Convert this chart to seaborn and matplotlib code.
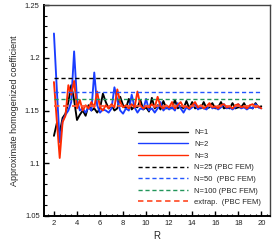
import numpy as np
import pandas as pd
import matplotlib
matplotlib.use("Agg")
import matplotlib.pyplot as plt
import seaborn as sns
from matplotlib.ticker import MultipleLocator
from matplotlib.lines import Line2D

R = [2 + 0.25 * i for i in range(73)]

n1 = [1.126, 1.138, 1.129, 1.143, 1.147, 1.158, 1.174, 1.160, 1.141, 1.146,
      1.150, 1.145, 1.155, 1.150, 1.152, 1.148, 1.152, 1.166, 1.158, 1.152,
      1.155, 1.150, 1.152, 1.163, 1.155, 1.152, 1.161, 1.151, 1.154, 1.153,
      1.160, 1.151, 1.153, 1.149, 1.162, 1.152, 1.155, 1.151, 1.159, 1.152,
      1.153, 1.152, 1.160, 1.152, 1.154, 1.152, 1.159, 1.152, 1.158, 1.152,
      1.153, 1.152, 1.158, 1.152, 1.153, 1.157, 1.152, 1.153, 1.158, 1.152,
      1.153, 1.152, 1.157, 1.152, 1.153, 1.153, 1.157, 1.152, 1.153, 1.152,
      1.157, 1.153, 1.154]

n2 = [1.223, 1.170, 1.120, 1.140, 1.146, 1.150, 1.158, 1.206, 1.160, 1.150,
      1.152, 1.148, 1.153, 1.150, 1.186, 1.155, 1.148, 1.151, 1.150, 1.148,
      1.152, 1.172, 1.160, 1.150, 1.147, 1.152, 1.150, 1.165, 1.153, 1.148,
      1.152, 1.151, 1.161, 1.150, 1.152, 1.148, 1.152, 1.158, 1.150, 1.153,
      1.151, 1.153, 1.150, 1.157, 1.152, 1.148, 1.153, 1.151, 1.153, 1.156,
      1.151, 1.153, 1.152, 1.151, 1.156, 1.152, 1.153, 1.151, 1.153, 1.156,
      1.152, 1.153, 1.151, 1.153, 1.156, 1.152, 1.153, 1.151, 1.153, 1.152,
      1.156, 1.153, 1.152]

n3 = [1.177, 1.140, 1.105, 1.139, 1.145, 1.174, 1.165, 1.178, 1.152, 1.160,
      1.150, 1.155, 1.152, 1.158, 1.153, 1.168, 1.153, 1.150, 1.155, 1.152,
      1.156, 1.153, 1.170, 1.158, 1.153, 1.155, 1.152, 1.156, 1.153, 1.168,
      1.155, 1.152, 1.154, 1.153, 1.156, 1.153, 1.163, 1.154, 1.152, 1.155,
      1.153, 1.158, 1.152, 1.155, 1.158, 1.153, 1.154, 1.152, 1.155, 1.158,
      1.153, 1.155, 1.152, 1.154, 1.157, 1.153, 1.154, 1.152, 1.155, 1.156,
      1.153, 1.154, 1.152, 1.155, 1.156, 1.153, 1.154, 1.152, 1.155, 1.156,
      1.153, 1.154, 1.152]

ref_labels = ["N=25 (PBC FEM)", "N=50  (PBC FEM)", "N=100 (PBC FEM)", "extrap.  (PBC FEM)"]
ref_values = [1.181, 1.1678, 1.1609, 1.1543]
ref_colors = ["#000000", "#2255ff", "#22955a", "#ff5533"]

series_labels = ["N=1", "N=2", "N=3"]
series_colors = ["#000000", "#1a3dff", "#ff2a00"]

sns.set_theme(style="white")
plt.rcParams['font.family'] = ['Liberation Sans', 'DejaVu Sans']

df = pd.DataFrame({
    "R": R * 3,
    "value": n1 + n2 + n3,
    "series": [series_labels[0]] * len(R) + [series_labels[1]] * len(R) + [series_labels[2]] * len(R),
})

fig = plt.figure(figsize=(2.78, 2.5), dpi=100)
ax = fig.add_axes([0.158, 0.136, 0.813, 0.844])

sns.lineplot(data=df, x="R", y="value", hue="series", palette=series_colors,
             hue_order=series_labels, linewidth=1.35, ax=ax, legend=False)

for lab, val, col in zip(ref_labels, ref_values, ref_colors):
    ax.plot([R[0], R[-1]], [val, val], linestyle=(0, (3, 2)), color=col,
            linewidth=1.3 if lab.startswith("extrap") else 1.0, label=lab)

handles = [Line2D([], [], color=c, lw=1.0) for c in series_colors]
handles += [Line2D([], [], color=c, lw=1.3 if i == 3 else 1.0, linestyle=(0, (3, 2)))
            for i, c in enumerate(ref_colors)]
labels = series_labels + ref_labels
ax.legend(handles, labels, loc="lower right", frameon=False, fontsize=5.5,
          handlelength=6.6, handletextpad=0.8, labelspacing=0.56,
          bbox_to_anchor=(0.982, 0.025), borderaxespad=0.2)

ax.set_xlim(1.13, 20.75)
ax.set_ylim(1.05, 1.25)
ax.xaxis.set_major_locator(MultipleLocator(2))
ax.xaxis.set_minor_locator(MultipleLocator(0.5))
ax.yaxis.set_major_locator(MultipleLocator(0.05))
ax.yaxis.set_minor_locator(MultipleLocator(0.01))
ax.set_yticks([1.05, 1.1, 1.15, 1.2, 1.25])
ax.set_yticklabels(["1.05", "1.1", "1.15", "1.2", "1.25"])

ax.tick_params(axis="both", which="major", direction="in", length=3.5, width=1.0,
               labelsize=5.5, pad=3, colors="black", labelcolor="#222222")
ax.tick_params(axis="both", which="minor", direction="in", length=1.8, width=0.8,
               colors="black")
ax.tick_params(top=False, right=False, which="both")
ax.tick_params(axis="both", which="both", bottom=True, left=True)

for side in ["left", "bottom"]:
    ax.spines[side].set_color("black")
    ax.spines[side].set_linewidth(1.4)
for side in ["top", "right"]:
    ax.spines[side].set_color("#444444")
    ax.spines[side].set_linewidth(1.0)

ax.set_xlabel("R", fontsize=7, labelpad=3)
ax.set_ylabel("Approximate homogenized coefficient", fontsize=6.5, labelpad=4)

fig.savefig("out.png", dpi=100)
